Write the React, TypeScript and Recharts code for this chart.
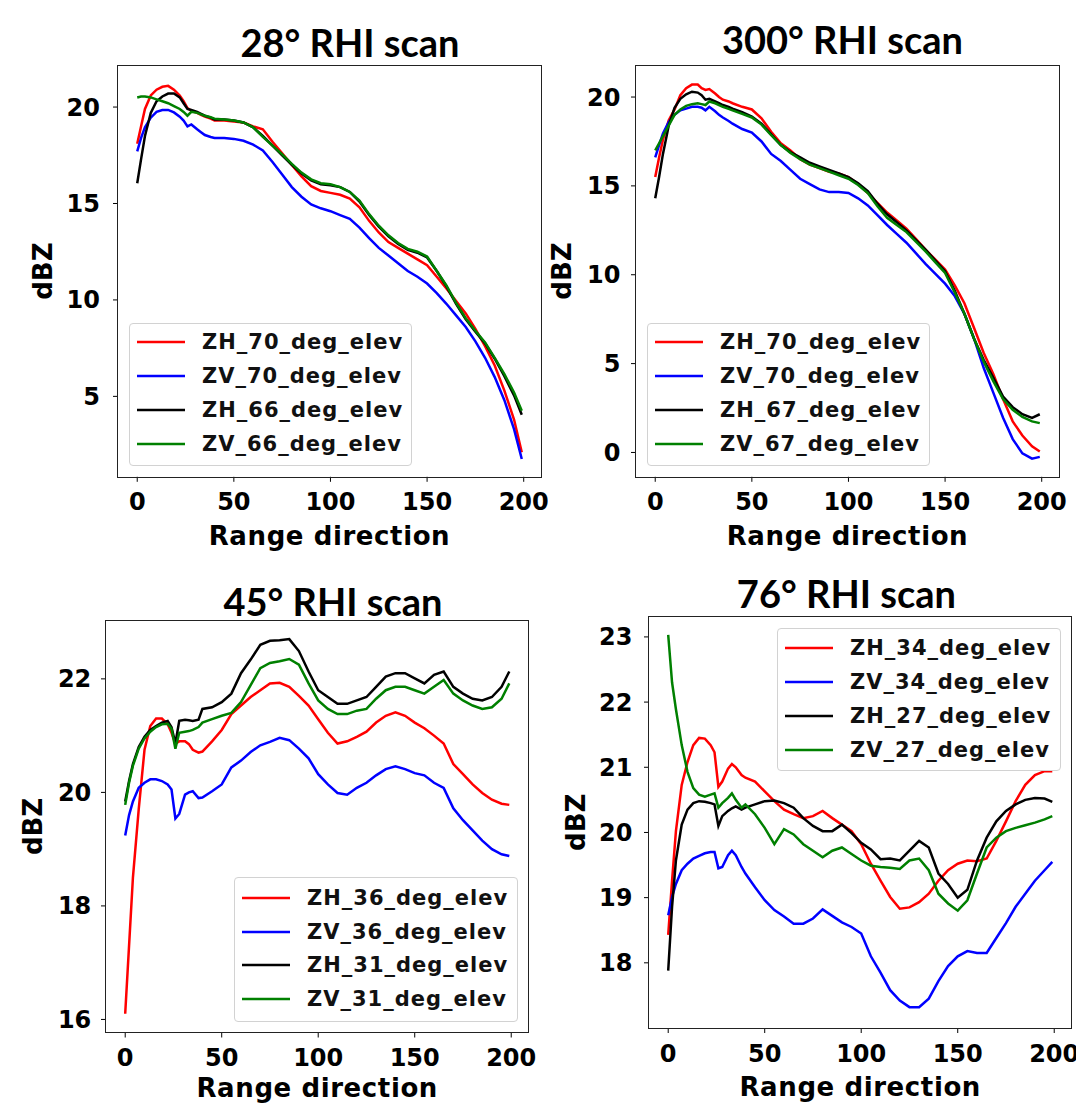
import React from 'react';
import { LineChart, Line, XAxis, YAxis, Legend, Label } from 'recharts';

// Range direction sample positions (shared by all four scans)
const RANGE = [0, 2, 4, 7, 10, 13, 16, 19, 22, 24, 26, 28, 31, 33, 35, 38, 40, 45, 50, 55, 60, 65, 70, 75, 80, 85, 90, 95, 100, 105, 110, 115, 120, 125, 130, 135, 140, 145, 150, 155, 160, 165, 170, 175, 180, 185, 190, 195, 199];
const X_TICKS = [0, 50, 100, 150, 200];
const X_DOMAIN: [number, number] = [-9.95, 208.95];

// 28° RHI scan
const S28_ZH70 = [18.1, 19.0, 19.9, 20.6, 20.9, 21.05, 21.1, 20.9, 20.6, 20.3, 19.95, 19.8, 19.7, 19.6, 19.5, 19.4, 19.3, 19.3, 19.25, 19.2, 19.0, 18.85, 18.2, 17.6, 17.0, 16.4, 15.9, 15.65, 15.55, 15.45, 15.25, 14.8, 14.1, 13.5, 13.0, 12.7, 12.4, 12.1, 11.8, 11.2, 10.6, 9.95, 9.3, 8.5, 7.6, 6.6, 5.3, 3.8, 2.1];
const S28_ZV70 = [17.7, 18.4, 18.95, 19.45, 19.75, 19.85, 19.85, 19.72, 19.5, 19.3, 19.0, 19.1, 18.85, 18.7, 18.55, 18.45, 18.4, 18.4, 18.35, 18.25, 18.05, 17.75, 17.15, 16.5, 15.85, 15.35, 14.95, 14.75, 14.6, 14.4, 14.2, 13.75, 13.2, 12.7, 12.3, 11.9, 11.5, 11.2, 10.85, 10.35, 9.8, 9.2, 8.6, 7.85, 7.0, 6.0, 4.8, 3.3, 1.75];
const S28_ZH66 = [16.05, 17.3, 18.5, 19.7, 20.3, 20.55, 20.7, 20.7, 20.5, 20.2, 19.9, 19.85, 19.75, 19.65, 19.55, 19.45, 19.35, 19.35, 19.3, 19.2, 18.95, 18.5, 18.0, 17.5, 17.0, 16.55, 16.2, 16.0, 15.95, 15.85, 15.6, 15.1, 14.4, 13.8, 13.3, 12.9, 12.6, 12.45, 12.2, 11.5, 10.7, 9.8, 9.0, 8.35, 7.75, 6.95, 6.05, 5.05, 4.05];
const S28_ZV66 = [20.5, 20.55, 20.55, 20.5, 20.4, 20.3, 20.2, 20.05, 19.9, 19.75, 19.55, 19.75, 19.7, 19.62, 19.55, 19.47, 19.4, 19.35, 19.3, 19.2, 18.95, 18.45, 18.0, 17.55, 17.05, 16.6, 16.25, 16.05, 16.0, 15.85, 15.6, 15.15, 14.45, 13.85, 13.35, 12.95, 12.65, 12.5, 12.25, 11.5, 10.75, 9.85, 9.05, 8.4, 7.8, 7.0, 6.15, 5.2, 4.25];

// 300° RHI scan
const S300_ZH70 = [15.5, 16.6, 17.6, 18.7, 19.3, 20.1, 20.5, 20.7, 20.7, 20.5, 20.4, 20.45, 20.2, 20.0, 19.85, 19.75, 19.65, 19.45, 19.3, 18.8, 18.05, 17.4, 17.0, 16.5, 16.2, 16.0, 15.8, 15.7, 15.5, 15.1, 14.6, 14.05, 13.5, 13.05, 12.6, 12.0, 11.4, 10.85, 10.3, 9.4, 8.4, 7.0, 5.6, 4.4, 3.0, 1.75, 0.95, 0.35, 0.05];
const S300_ZV70 = [16.6, 17.3, 17.95, 18.6, 19.0, 19.25, 19.35, 19.45, 19.45, 19.4, 19.25, 19.45, 19.2, 19.0, 18.85, 18.65, 18.5, 18.2, 18.0, 17.5, 16.8, 16.4, 15.9, 15.4, 15.1, 14.8, 14.65, 14.65, 14.6, 14.3, 13.9, 13.35, 12.8, 12.3, 11.8, 11.2, 10.6, 10.05, 9.5, 8.8, 7.8, 6.4, 4.75, 3.35, 1.95, 0.75, -0.05, -0.35, -0.25];
const S300_ZH67 = [14.3, 15.5, 16.8, 18.4, 19.4, 19.9, 20.15, 20.3, 20.25, 20.1, 19.85, 19.9, 19.75, 19.65, 19.55, 19.45, 19.35, 19.15, 18.9, 18.5, 17.9, 17.3, 16.9, 16.6, 16.3, 16.1, 15.9, 15.7, 15.5, 15.15, 14.7, 14.0, 13.4, 12.95, 12.5, 11.95, 11.4, 10.8, 10.2, 9.1, 7.8, 6.4, 5.2, 4.2, 3.15, 2.55, 2.15, 1.95, 2.15];
const S300_ZV67 = [17.0, 17.4, 17.8, 18.4, 19.0, 19.3, 19.5, 19.6, 19.65, 19.6, 19.55, 19.75, 19.65, 19.55, 19.45, 19.33, 19.25, 19.05, 18.85, 18.45, 17.85, 17.3, 16.85, 16.5, 16.2, 16.0, 15.8, 15.6, 15.4, 15.05, 14.6, 13.85, 13.2, 12.8, 12.4, 11.85, 11.3, 10.7, 10.1, 9.0, 7.8, 6.4, 5.1, 4.0, 3.0, 2.4, 2.0, 1.75, 1.65];

// 45° RHI scan
const S45_ZH36 = [16.1, 17.3, 18.5, 19.7, 20.75, 21.17, 21.3, 21.3, 21.2, 21.05, 20.86, 20.9, 20.9, 20.85, 20.75, 20.7, 20.72, 20.9, 21.1, 21.38, 21.53, 21.68, 21.8, 21.92, 21.93, 21.86, 21.7, 21.53, 21.29, 21.05, 20.86, 20.9, 20.98, 21.07, 21.23, 21.35, 21.41, 21.35, 21.23, 21.13, 21.0, 20.86, 20.5, 20.32, 20.14, 19.99, 19.87, 19.8, 19.78];
const S45_ZV36 = [19.24, 19.6, 19.84, 20.08, 20.17, 20.23, 20.23, 20.2, 20.14, 20.05, 19.54, 19.62, 19.96, 20.0, 20.02, 19.9, 19.91, 20.02, 20.14, 20.44, 20.56, 20.71, 20.83, 20.89, 20.96, 20.92, 20.77, 20.6, 20.32, 20.14, 19.99, 19.96, 20.08, 20.17, 20.3, 20.41, 20.46, 20.41, 20.34, 20.3, 20.17, 20.08, 19.72, 19.51, 19.33, 19.15, 19.0, 18.91, 18.88];
const S45_ZH31 = [19.84, 20.2, 20.5, 20.8, 20.98, 21.1, 21.17, 21.23, 21.26, 21.15, 20.86, 21.26, 21.28, 21.27, 21.26, 21.28, 21.47, 21.5, 21.59, 21.74, 22.1, 22.34, 22.6, 22.67, 22.68, 22.7, 22.49, 22.13, 21.8, 21.68, 21.56, 21.56, 21.62, 21.68, 21.86, 22.04, 22.1, 22.1, 22.01, 21.92, 22.07, 22.13, 21.86, 21.74, 21.65, 21.62, 21.68, 21.86, 22.13];
const S45_ZV31 = [19.78, 20.17, 20.47, 20.77, 20.95, 21.07, 21.15, 21.2, 21.21, 21.12, 20.77, 21.05, 21.07, 21.08, 21.1, 21.15, 21.23, 21.29, 21.35, 21.4, 21.59, 21.89, 22.19, 22.28, 22.31, 22.35, 22.25, 21.92, 21.62, 21.47, 21.38, 21.38, 21.44, 21.47, 21.65, 21.8, 21.86, 21.86, 21.8, 21.74, 21.86, 21.98, 21.74, 21.62, 21.53, 21.47, 21.5, 21.65, 21.92];

// 76° RHI scan
const S76_ZH34 = [18.43, 19.26, 20.02, 20.73, 21.08, 21.34, 21.45, 21.44, 21.34, 21.23, 20.7, 20.78, 20.98, 21.05, 21.0, 20.88, 20.84, 20.78, 20.63, 20.48, 20.35, 20.28, 20.22, 20.25, 20.33, 20.22, 20.12, 20.02, 19.82, 19.52, 19.26, 19.01, 18.83, 18.85, 18.93, 19.06, 19.26, 19.42, 19.52, 19.57, 19.56, 19.6, 19.87, 20.17, 20.48, 20.73, 20.88, 20.94, 20.94];
const S76_ZV34 = [18.73, 19.01, 19.21, 19.42, 19.52, 19.6, 19.64, 19.68, 19.7, 19.7, 19.45, 19.47, 19.65, 19.72, 19.65, 19.47, 19.37, 19.16, 18.96, 18.81, 18.71, 18.6, 18.6, 18.68, 18.82, 18.72, 18.62, 18.55, 18.45, 18.1, 17.85, 17.58, 17.42, 17.32, 17.32, 17.45, 17.72, 17.95, 18.1, 18.18, 18.15, 18.15, 18.38, 18.61, 18.86, 19.06, 19.26, 19.42, 19.55];
const S76_ZH27 = [17.88, 18.86, 19.57, 20.12, 20.35, 20.45, 20.48, 20.47, 20.45, 20.43, 20.1, 20.25, 20.33, 20.37, 20.4, 20.35, 20.38, 20.43, 20.48, 20.49, 20.45, 20.38, 20.22, 20.1, 20.02, 20.02, 20.12, 19.99, 19.84, 19.74, 19.59, 19.6, 19.57, 19.72, 19.87, 19.77, 19.37, 19.21, 19.0, 19.12, 19.57, 19.92, 20.17, 20.33, 20.43, 20.5, 20.53, 20.52, 20.47];
const S76_ZV27 = [23.03, 22.3, 21.89, 21.34, 20.93, 20.68, 20.58, 20.55, 20.58, 20.6, 20.38, 20.45, 20.53, 20.6, 20.5, 20.38, 20.43, 20.28, 20.07, 19.82, 20.05, 19.97, 19.82, 19.72, 19.62, 19.72, 19.77, 19.67, 19.57, 19.49, 19.47, 19.46, 19.44, 19.57, 19.6, 19.42, 19.06, 18.91, 18.8, 18.96, 19.37, 19.77, 19.92, 20.02, 20.07, 20.11, 20.15, 20.2, 20.25];

const COLORS = ['#ff0000', '#0000ff', '#000000', '#008000'];
const TICK_FONT = '"DejaVu Sans", Verdana, sans-serif';
const TITLE_FONT = 'Lato, "Open Sans", sans-serif';

type Box = { x: number; y: number; w: number; h: number; first: number; step: number };
type Panel = {
  title: string; titleX: number; titleY: number;
  left: number; top: number; w: number; h: number;
  L: number; T: number; R: number; B: number;
  yDomain: [number, number]; yTicks: number[]; yTickMargin: number;
  yLabelX: number; xLabelBaseline: number;
  names: string[]; series: number[][]; legend: Box;
};

const PANELS: Panel[] = [
  {
    title: '28° RHI scan', titleX: 350, titleY: 57,
    left: 0, top: 0, w: 548, h: 560, L: 118, T: 65.4, R: 541, B: 476.8,
    yDomain: [0.83, 22.16], yTicks: [5, 10, 15, 20], yTickMargin: 13,
    yLabelX: 43, xLabelBaseline: 544.6,
    names: ['ZH_70_deg_elev', 'ZV_70_deg_elev', 'ZH_66_deg_elev', 'ZV_66_deg_elev'],
    series: [S28_ZH70, S28_ZV70, S28_ZH66, S28_ZV66],
    legend: { x: 129, y: 323, w: 283, h: 143, first: 18, step: 34 },
  },
  {
    title: '300° RHI scan', titleX: 842.5, titleY: 53.6,
    left: 548, top: 0, w: 528, h: 560, L: 636, T: 65.4, R: 1059, B: 476.8,
    yDomain: [-1.37, 21.78], yTicks: [0, 5, 10, 15, 20], yTickMargin: 10.6,
    yLabelX: 561.8, xLabelBaseline: 544.6,
    names: ['ZH_70_deg_elev', 'ZV_70_deg_elev', 'ZH_67_deg_elev', 'ZV_67_deg_elev'],
    series: [S300_ZH70, S300_ZV70, S300_ZH67, S300_ZV67],
    legend: { x: 647, y: 323, w: 283, h: 143, first: 18, step: 34 },
  },
  {
    title: '45° RHI scan', titleX: 333, titleY: 616,
    left: 0, top: 560, w: 548, h: 544, L: 106, T: 620.4, R: 528.5, B: 1032.5,
    yDomain: [15.77, 23.03], yTicks: [16, 18, 20, 22], yTickMargin: 9.7,
    yLabelX: 32.7, xLabelBaseline: 1097,
    names: ['ZH_36_deg_elev', 'ZV_36_deg_elev', 'ZH_31_deg_elev', 'ZV_31_deg_elev'],
    series: [S45_ZH36, S45_ZV36, S45_ZH31, S45_ZV31],
    legend: { x: 234, y: 876.5, w: 284, h: 145, first: 20.5, step: 33.6 },
  },
  {
    title: '76° RHI scan', titleX: 846.4, titleY: 607.5,
    left: 548, top: 560, w: 528, h: 544, L: 649, T: 616.7, R: 1071.5, B: 1028,
    yDomain: [17.0, 23.31], yTicks: [18, 19, 20, 21, 22, 23], yTickMargin: 11.6,
    yLabelX: 575.6, xLabelBaseline: 1096,
    names: ['ZH_34_deg_elev', 'ZV_34_deg_elev', 'ZH_27_deg_elev', 'ZV_27_deg_elev'],
    series: [S76_ZH34, S76_ZV34, S76_ZH27, S76_ZV27],
    legend: { x: 777, y: 628, w: 284, h: 143, first: 18.6, step: 34.1 },
  },
];

const KEYS = ['s0', 's1', 's2', 's3'];

function makeLegend(p: Panel) {
  const box = p.legend;
  return () => (
    <div
      style={{
        boxSizing: 'border-box', width: box.w, height: box.h,
        border: '1.2px solid #d2d2d2', borderRadius: 4,
        background: 'rgba(255,255,255,0.85)', position: 'relative',
      }}
    >
      {p.names.map((name, i) => (
        <div
          key={i}
          style={{
            position: 'absolute', left: 0, top: box.first + i * box.step - 17,
            height: 34, width: '100%', display: 'flex', alignItems: 'center',
          }}
        >
          <svg width={72} height={34} style={{ flex: 'none', display: 'block' }}>
            <line x1={7} x2={55} y1={17} y2={17} stroke={COLORS[i]} strokeWidth={2.5} />
          </svg>
          <span
            style={{
              fontFamily: TICK_FONT, fontWeight: 700, fontSize: 21, letterSpacing: 1,
              lineHeight: '34px', color: '#111', whiteSpace: 'nowrap',
            }}
          >
            {name}
          </span>
        </div>
      ))}
    </div>
  );
}

function PanelChart({ p }: { p: Panel }) {
  const data = RANGE.map((x, i) => {
    const row: any = { x };
    p.series.forEach((s, k) => { row[KEYS[k]] = s[i]; });
    return row;
  });
  const yAxisW = p.L - p.left;
  const xAxisH = p.top + p.h - p.B;
  const tickStyle = { fontFamily: TICK_FONT, fontWeight: 700, fontSize: 24, fill: '#000' };
  return (
    <div style={{ position: 'absolute', left: p.left, top: p.top }}>
      <LineChart
        width={p.w}
        height={p.h}
        data={data}
        margin={{ top: p.T - p.top, right: p.left + p.w - p.R, bottom: 0, left: 0 }}
      >
        <XAxis
          dataKey="x" type="number" domain={X_DOMAIN} ticks={X_TICKS} allowDataOverflow
          height={xAxisH} tick={tickStyle} tickSize={5} tickMargin={11.5}
          tickLine={{ stroke: '#000' }} axisLine={false} interval={0}
        >
          <Label
            value="Range direction" position="insideBottom" offset={p.top + p.h - p.xLabelBaseline}
            style={{ fontFamily: TICK_FONT, fontWeight: 700, fontSize: 26, letterSpacing: 0.6, fill: '#000' }}
          />
        </XAxis>
        <YAxis
          type="number" domain={p.yDomain} ticks={p.yTicks} allowDataOverflow width={yAxisW}
          tick={tickStyle} tickSize={5} tickMargin={p.yTickMargin} tickLine={{ stroke: '#000' }}
          axisLine={false} interval={0}
        >
          <Label
            value="dBZ" angle={-90} position="insideLeft" offset={p.yLabelX - p.left}
            style={{ fontFamily: TICK_FONT, fontWeight: 700, fontSize: 26, fill: '#000', textAnchor: 'middle' }}
          />
        </YAxis>
        <Legend
          layout="vertical" align="center" verticalAlign="middle"
          content={makeLegend(p)}
          wrapperStyle={{ left: p.legend.x - p.left, top: p.legend.y - p.top, width: p.legend.w, height: p.legend.h }}
        />
        {KEYS.map((k, i) => (
          <Line
            key={k} dataKey={k} name={p.names[i]} type="linear" stroke={COLORS[i]}
            strokeWidth={2.5} dot={false} activeDot={false} isAnimationActive={false}
          />
        ))}
      </LineChart>
    </div>
  );
}

export default function App() {
  return (
    <div style={{ position: 'fixed', left: 0, top: 0, width: 1076, height: 1104, overflow: 'hidden', background: '#fff' }}>
      {PANELS.map((p, i) => <PanelChart key={i} p={p} />)}
      {PANELS.map((p, i) => (
        <div
          key={'f' + i}
          style={{
            position: 'absolute', left: p.L - 0.75, top: p.T - 0.75,
            width: p.R - p.L + 1.5, height: p.B - p.T + 1.5,
            border: '1.5px solid #222', boxSizing: 'border-box', pointerEvents: 'none',
          }}
        />
      ))}
      <svg width={1076} height={1104} style={{ position: 'absolute', left: 0, top: 0, pointerEvents: 'none' }}>
        {PANELS.map((p, i) => (
          <text key={i} x={p.titleX} y={p.titleY} textAnchor="middle"
            style={{ fontFamily: TITLE_FONT, fontWeight: 700, fontSize: 38, fill: '#000' }}>
            {p.title}
          </text>
        ))}
      </svg>
    </div>
  );
}
